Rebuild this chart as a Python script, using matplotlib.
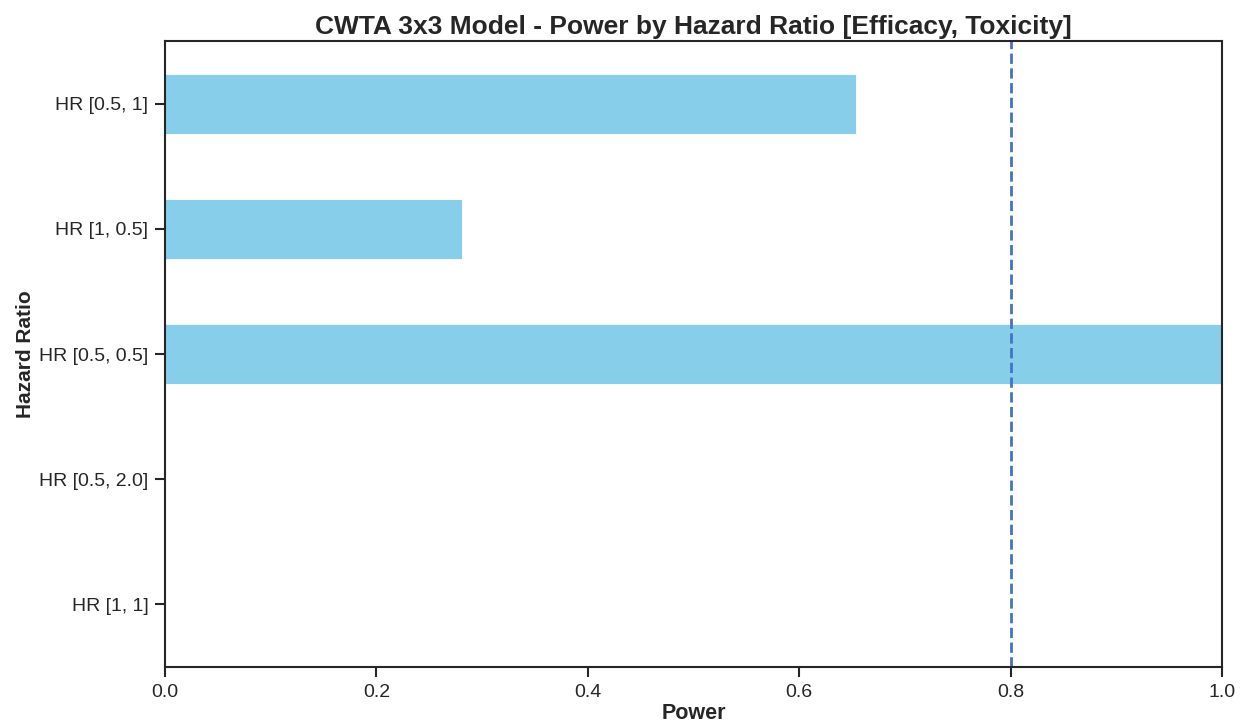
import matplotlib.pyplot as plt
import seaborn as sns

# Hazard ratio scenarios (bottom to top) and their power
scenarios = ["HR [1, 1]", "HR [0.5, 2.0]", "HR [0.5, 0.5]", "HR [1, 0.5]", "HR [0.5, 1]"]
power = [0.0, 0.0, 1.0, 0.281, 0.654]
target_power = 0.8

sns.set_style("ticks")
plt.rcParams['font.family'] = ['Liberation Sans', 'DejaVu Sans']

fig = plt.figure(figsize=(12.46, 7.27), dpi=100)
ax = fig.add_axes([0.1324, 0.0825, 0.8483, 0.8611])

ax.barh(range(len(scenarios)), power, height=0.48, color="skyblue",
        edgecolor="white", linewidth=0.6)
ax.axvline(target_power, color="#4472C4", linestyle="--", linewidth=2)

ax.set_yticks(range(len(scenarios)))
ax.set_yticklabels(scenarios)
ax.set_ylim(-0.5, len(scenarios) - 0.5)
ax.set_xlim(0, 1.0)

ax.set_title("CWTA 3x3 Model - Power by Hazard Ratio [Efficacy, Toxicity]",
             fontsize=19, fontweight="bold", color="#262626", pad=5)
ax.set_xlabel("Power", fontsize=15.5, fontweight="bold", color="#262626", labelpad=2)
ax.set_ylabel("Hazard Ratio", fontsize=15, fontweight="bold", color="#262626", labelpad=3)
ax.tick_params(axis="both", labelsize=14, length=7, width=1.5, pad=5, color="#262626")

for s in ax.spines.values():
    s.set_linewidth(1.5)
    s.set_color("#262626")

fig.savefig("out.png", dpi=100)
